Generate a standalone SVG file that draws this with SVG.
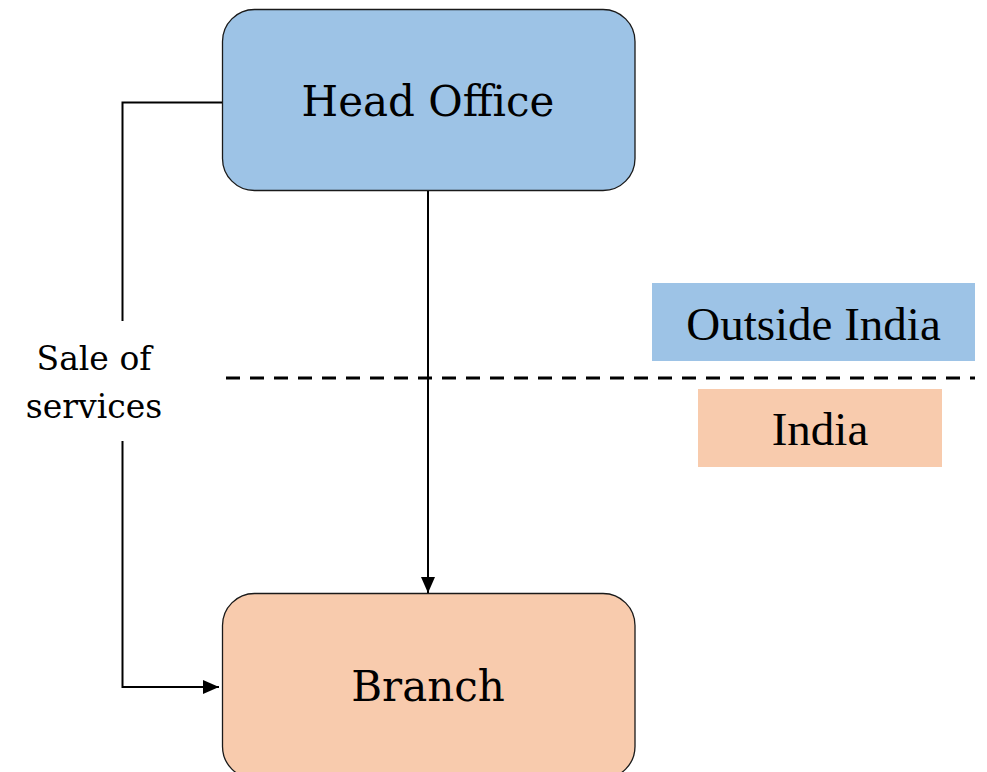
<svg xmlns="http://www.w3.org/2000/svg" width="987" height="772" viewBox="0 0 987 772">
<style>
.box{stroke:#1a1a1a;stroke-width:1.3}
.blue{fill:#9DC3E6}
.peach{fill:#F8CBAD}
.pal{font-family:"DejaVu Serif","Liberation Serif",serif;fill:#000}
.tnr{font-family:"Liberation Serif","Times New Roman",serif;fill:#000}
.conn{fill:none;stroke:#000;stroke-width:2}
</style>
<defs>
<marker id="arr" viewBox="0 0 16 14" refX="16" refY="7" markerWidth="16" markerHeight="14" markerUnits="userSpaceOnUse" orient="auto">
<path d="M0,0 L16,7 L0,14 Z" fill="#000"/>
</marker>
</defs>
<rect width="987" height="772" fill="#fff"/>
<g id="region-outside">
<rect x="652" y="283" width="323" height="78" class="blue"/>
<text x="813.5" y="340" font-size="47" text-anchor="middle" class="tnr">Outside India</text>
</g>
<g id="region-india">
<rect x="698" y="389" width="244" height="78" class="peach"/>
<text x="820" y="445" font-size="47" text-anchor="middle" class="tnr">India</text>
</g>
<g id="head-office">
<rect x="222.5" y="9.5" width="412.5" height="181" rx="32" class="box blue"/>
<text x="428" y="116" font-size="42" text-anchor="middle" class="pal">Head Office</text>
</g>
<g id="branch">
<rect x="222.5" y="593.5" width="412.5" height="185" rx="32" class="box peach"/>
<text x="428" y="701" font-size="42" text-anchor="middle" class="pal">Branch</text>
</g>
<g id="connectors">
<line x1="226" y1="378" x2="975" y2="378" stroke="#000" stroke-width="3" stroke-dasharray="14 10"/>
<path d="M428,191 V593" class="conn" marker-end="url(#arr)"/>
<path d="M222,102.5 H122.5 V321" class="conn"/>
<path d="M122.5,441 V687 H219" class="conn" marker-end="url(#arr)"/>
<text x="94" y="370" font-size="33" text-anchor="middle" class="pal">Sale of</text>
<text x="94" y="418" font-size="33" text-anchor="middle" class="pal">services</text>
</g>
</svg>
